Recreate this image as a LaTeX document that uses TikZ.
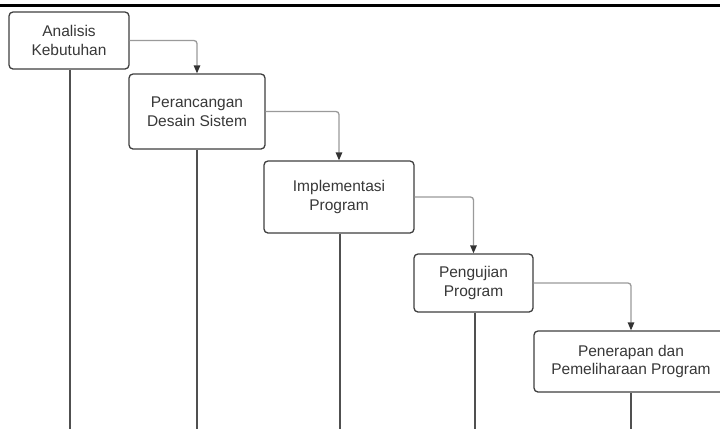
\documentclass[tikz,border=0pt]{standalone}
\usepackage{fontspec}
\setmainfont{Liberation Sans}
\usetikzlibrary{arrows.meta}
\definecolor{boxline}{HTML}{3F3F3F}
\definecolor{txt}{HTML}{383838}
\definecolor{flow}{HTML}{9A9A9A}
\definecolor{tip}{HTML}{333333}
\definecolor{stem}{HTML}{505050}
\tikzset{
  stage/.style={draw=boxline, line width=1.3pt, rounded corners=4pt, fill=white,
    text=txt, align=center, font=\fontsize{15.5}{18.5}\selectfont, inner sep=0pt},
  flowarrow/.style={draw=flow, line width=1.3pt, rounded corners=3pt,
    -{Triangle[length=8pt,width=6.5pt,color=tip]}},
  stemline/.style={draw=stem, line width=1.3pt},
}
\begin{document}
\begin{tikzpicture}[x=1pt,y=-1pt]
\useasboundingbox (0,0) rectangle (720,429);
\clip (0,0) rectangle (720,429);
\draw[black, line width=2.2pt] (0,5.5) -- (720,5.5);
% boxes (pixel coordinates, y downwards)
\node[stage, minimum width=120pt, minimum height=57pt] (a) at (69,40.5) {Analisis\\Kebutuhan};
\node[stage, minimum width=136pt, minimum height=75pt] (b) at (197,111.5) {Perancangan\\Desain Sistem};
\node[stage, minimum width=150pt, minimum height=72pt] (c) at (339,197) {Implementasi\\Program};
\node[stage, minimum width=119pt, minimum height=58pt] (d) at (473.5,283) {Pengujian\\Program};
\node[stage, minimum width=194pt, minimum height=61pt] (e) at (631,361.5) {Penerapan dan\\Pemeliharaan Program};
% bottom coordinates of stems
\coordinate (ea) at (70,429);
\coordinate (eb) at (197,429);
\coordinate (ec) at (340,429);
\coordinate (ed) at (475,429);
\coordinate (ee) at (631,429);
\draw[stemline] (a.south -| ea) -- (ea);
\draw[stemline] (b.south -| eb) -- (eb);
\draw[stemline] (c.south -| ec) -- (ec);
\draw[stemline] (d.south -| ed) -- (ed);
\draw[stemline] (e.south -| ee) -- (ee);
% flow arrows
\draw[flowarrow] (a.east) -| (b.north);
\draw[flowarrow] (b.east) -| (c.north);
\draw[flowarrow] (c.east) -| (d.north);
\draw[flowarrow] (d.east) -| (e.north);
\end{tikzpicture}
\end{document}
